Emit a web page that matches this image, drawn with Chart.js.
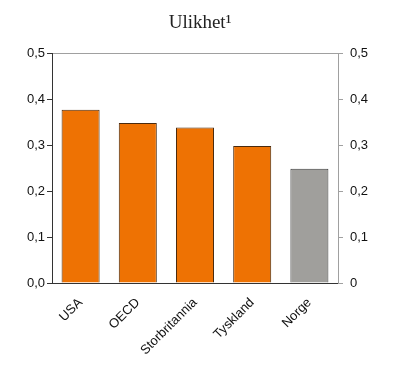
<!DOCTYPE html>
<html><head><meta charset="utf-8">
<script src="https://cdn.jsdelivr.net/npm/chart.js@4.4.0/dist/chart.umd.min.js"></script>
<style>html,body{margin:0;padding:0;background:#fff}#wrap{width:400px;height:379px}</style>
</head><body><div id="wrap"><canvas id="c"></canvas></div>
<script>
const categories = ["USA","OECD","Storbritannia","Tyskland","Norge"];
const values = [0.378, 0.349, 0.339, 0.299, 0.249];
const barColors = ["#EE7203","#EE7203","#EE7203","#EE7203","#A09F9C"];
const borderColors = ["#4a2a0e","#4a2a0e","#4a2a0e","#4a2a0e","#3a3a3a"];
const titleText = "Ulikhet\u00B9";
const fmtLeft = v => v.toFixed(1).replace('.', ',');
const fmtRight = v => v === 0 ? "0" : v.toFixed(1).replace('.', ',');

new Chart(document.getElementById('c'), {
  type: 'bar',
  data: { labels: categories, datasets: [{ data: values, backgroundColor: barColors, borderColor: borderColors, borderWidth: 1, barPercentage: 0.665, categoryPercentage: 1 }] },
  options: {
    responsive: true, maintainAspectRatio: false, animation: false,
    layout: { padding: { left: 0, right: 0, top: 4, bottom: 0 } },
    plugins: {
      legend: { display: false }, tooltip: { enabled: false },
      title: { display: true, text: titleText, color: '#222', font: { family: 'Liberation Serif', size: 19, weight: 'normal' }, padding: { top: 8, bottom: 19 } }
    },
    scales: {
      x: {
        grid: { display: false },
        border: { display: true, color: '#333', width: 1 },
        afterFit: ax => { ax.height = 96; },
        ticks: { color: '#111', font: { family: 'Liberation Sans', size: 13 }, minRotation: 45, maxRotation: 45, padding: 4 }
      },
      y: {
        position: 'left', min: 0, max: 0.5,
        afterBuildTicks: ax => { ax.ticks = [0,0.1,0.2,0.3,0.4,0.5].map(v => ({value: v})); },
        afterFit: ax => { ax.width = 52; },
        grid: { color: ctx => (ctx.tick && ctx.tick.value === 0.5) ? '#a0a0a0' : 'rgba(0,0,0,0)', tickColor: '#333', tickLength: 5, drawOnChartArea: true },
        border: { color: '#333', width: 1 },
        ticks: { color: '#111', font: { family: 'Liberation Sans', size: 13 }, padding: 2, callback: v => fmtLeft(v) }
      },
      y2: {
        position: 'right', min: 0, max: 0.5,
        afterBuildTicks: ax => { ax.ticks = [0,0.1,0.2,0.3,0.4,0.5].map(v => ({value: v})); },
        afterFit: ax => { ax.width = 62; },
        grid: { drawOnChartArea: false, color: '#a0a0a0', tickColor: '#a0a0a0', tickLength: 5 },
        border: { color: '#a0a0a0', width: 1 },
        ticks: { color: '#111', font: { family: 'Liberation Sans', size: 13 }, padding: 7, callback: v => fmtRight(v) }
      }
    }
  }
});
</script></body></html>
